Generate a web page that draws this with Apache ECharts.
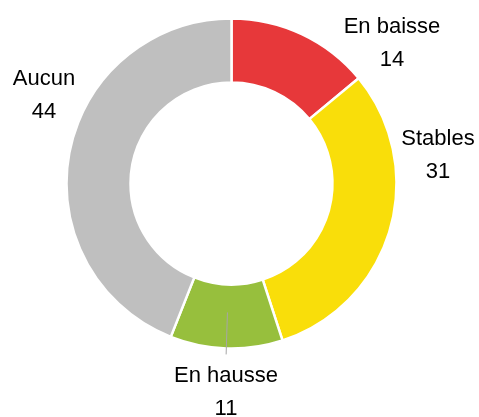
<!DOCTYPE html>
<html>
<head>
<meta charset="utf-8">
<script src="https://cdn.jsdelivr.net/npm/echarts@6/dist/echarts.min.js"></script>
<style>
  html, body { margin: 0; padding: 0; background: #fff; }
  #chart { width: 479px; height: 417px; }
</style>
</head>
<body>
<div id="chart"></div>
<script>
  // données
  const categories = ['En baisse', 'Stables', 'En hausse', 'Aucun'];
  const values = [14, 31, 11, 44];
  const colors = ['#E7383A', '#F9DE0A', '#97BF3D', '#BFBFBF'];
  const leaderFor = 'En hausse'; // seule étiquette avec un trait de rappel

  // centres des blocs d'étiquettes (mise en page, pas des données)
  const labelSpots = {
    'En baisse': [392, 43],
    'Stables': [438, 155],
    'En hausse': [226, 392],
    'Aucun': [44, 95]
  };

  const center = [231.5, 183.5];
  const font = 'Liberation Sans';

  let chart = echarts.init(document.getElementById('chart'), null, { renderer: 'canvas' });

  let option = {
    backgroundColor: '#ffffff',
    animation: false,
    series: [
      {
        type: 'pie',
        z: 2,
        center: center,
        radius: [101, 165],
        startAngle: 90,
        clockwise: true,
        avoidLabelOverlap: false,
        itemStyle: {
          borderColor: '#ffffff',
          borderWidth: 2.5
        },
        label: {
          show: true,
          formatter: '{b}\n{c}',
          fontFamily: font,
          fontSize: 22,
          lineHeight: 33,
          color: '#000000'
        },
        labelLine: { show: false },
        labelLayout: function (params) {
          let name = categories[params.dataIndex];
          let p = labelSpots[name];
          return { x: p[0], y: p[1], align: 'center', verticalAlign: 'middle' };
        },
        data: categories.map((name, i) => ({
          name: name,
          value: values[i],
          itemStyle: { color: colors[i] }
        }))
      },
      {
        // série invisible pour le trait de rappel qui part du milieu de l'anneau
        type: 'pie',
        z: 5,
        center: center,
        radius: [0, 129],
        startAngle: 90,
        clockwise: true,
        silent: true,
        avoidLabelOverlap: false,
        itemStyle: { color: 'rgba(0,0,0,0)', borderWidth: 0 },
        label: { show: false, position: 'outside', formatter: ' ', fontSize: 1 },
        labelLine: {
          show: false,
          length: 42,
          length2: 0,
          smooth: false,
          lineStyle: { color: '#A6A6A6', width: 1 }
        },
        data: categories.map((name, i) => ({
          name: name,
          value: values[i],
          label: { show: name === leaderFor },
          labelLine: { show: name === leaderFor }
        }))
      }
    ]
  };
  chart.setOption(option);
</script>
</body>
</html>
